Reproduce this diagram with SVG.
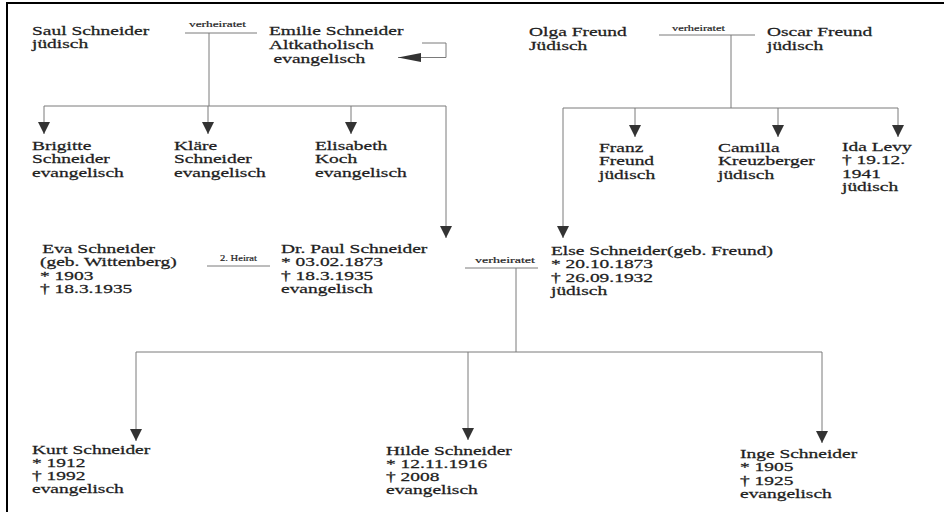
<svg xmlns="http://www.w3.org/2000/svg" width="944" height="512" viewBox="0 0 944 512">
<style>
.n text{font-family:"Liberation Serif","Times New Roman",serif;font-size:12.8px;fill:#1e1e1e;stroke:#1e1e1e;stroke-width:0.25}
.lbl{font-family:"Liberation Serif","Times New Roman",serif;font-size:9px;fill:#1e1e1e;stroke:#1e1e1e;stroke-width:0.2}
.c path{fill:none;stroke:#7a7a7a;stroke-width:1}
.border{fill:none;stroke:#000;stroke-width:2}
</style>
<defs>
<marker id="ah" markerUnits="userSpaceOnUse" markerWidth="12" markerHeight="12" refX="12" refY="6" orient="auto">
<path d="M0,0 L12,6 L0,12 z" fill="#333"/>
</marker>
<marker id="ahs" markerUnits="userSpaceOnUse" markerWidth="23" markerHeight="9" refX="23" refY="4.5" orient="auto">
<path d="M0,0 L23,4.5 L0,9 z" fill="#333"/>
</marker>
</defs>
<rect width="944" height="512" fill="#fff"/>
<path class="border" d="M7,512 V3 H944"/>

<g id="connectors" class="c">
<path d="M185,33 H257"/>
<path d="M209,33 V106"/>
<path d="M44,106 H446"/>
<path d="M44,106 V134" marker-end="url(#ah)"/>
<path d="M208,106 V134" marker-end="url(#ah)"/>
<path d="M351,106 V134" marker-end="url(#ah)"/>
<path d="M446,106 V238" marker-end="url(#ah)"/>
<path d="M422,43 H446 V57.5 H398" marker-end="url(#ahs)"/>
<path d="M659,35 H755"/>
<path d="M731,35 V108"/>
<path d="M563,108 H898"/>
<path d="M635,108 V137" marker-end="url(#ah)"/>
<path d="M778,108 V137" marker-end="url(#ah)"/>
<path d="M898,108 V137" marker-end="url(#ah)"/>
<path d="M563,108 V238" marker-end="url(#ah)"/>
<path d="M207,266 H270"/>
<path d="M465,268 H538"/>
<path d="M516,268 V352"/>
<path d="M136,352 H822"/>
<path d="M136,352 V441" marker-end="url(#ah)"/>
<path d="M468,352 V440" marker-end="url(#ah)"/>
<path d="M822,352 V443" marker-end="url(#ah)"/>
<g id="connector-labels">
<text class="lbl" x="189" y="27" textLength="57" lengthAdjust="spacingAndGlyphs">verheiratet</text>
<text class="lbl" x="672" y="31" textLength="53" lengthAdjust="spacingAndGlyphs">verheiratet</text>
<text class="lbl" x="220" y="261" textLength="37" lengthAdjust="spacingAndGlyphs">2. Heirat</text>
<text class="lbl" x="475" y="263" textLength="60" lengthAdjust="spacingAndGlyphs">verheiratet</text>
</g>
</g>

<g id="saul" class="n" transform="translate(32,35) scale(1.52,1)"><text><tspan x="0" y="0">Saul Schneider</tspan><tspan x="0" y="13">jüdisch</tspan></text></g>
<g id="emilie" class="n" transform="translate(269,35) scale(1.52,1)"><text><tspan x="0" y="0">Emilie Schneider</tspan><tspan x="0" y="14">Altkatholisch</tspan><tspan x="3" y="28">evangelisch</tspan></text></g>
<g id="olga" class="n" transform="translate(529,36) scale(1.52,1)"><text><tspan x="0" y="0">Olga Freund</tspan><tspan x="0" y="14">Jüdisch</tspan></text></g>
<g id="oscar" class="n" transform="translate(767,36) scale(1.52,1)"><text><tspan x="0" y="0">Oscar Freund</tspan><tspan x="0" y="14">jüdisch</tspan></text></g>

<g id="brigitte" class="n" transform="translate(32,150) scale(1.52,1)"><text><tspan x="0" y="0">Brigitte</tspan><tspan x="0" y="13.5">Schneider</tspan><tspan x="0" y="27">evangelisch</tspan></text></g>
<g id="klaere" class="n" transform="translate(174,150) scale(1.52,1)"><text><tspan x="0" y="0">Kläre</tspan><tspan x="0" y="13.5">Schneider</tspan><tspan x="0" y="27">evangelisch</tspan></text></g>
<g id="elisabeth" class="n" transform="translate(315,150) scale(1.52,1)"><text><tspan x="0" y="0">Elisabeth</tspan><tspan x="0" y="13.5">Koch</tspan><tspan x="0" y="27">evangelisch</tspan></text></g>

<g id="franz" class="n" transform="translate(599,152) scale(1.52,1)"><text><tspan x="0" y="0">Franz</tspan><tspan x="0" y="13.5">Freund</tspan><tspan x="0" y="27">jüdisch</tspan></text></g>
<g id="camilla" class="n" transform="translate(718,152) scale(1.52,1)"><text><tspan x="0" y="0">Camilla</tspan><tspan x="0" y="13.5">Kreuzberger</tspan><tspan x="0" y="27">jüdisch</tspan></text></g>
<g id="ida" class="n" transform="translate(842,151) scale(1.52,1)"><text><tspan x="0" y="0">Ida Levy</tspan><tspan x="0" y="13.5">† 19.12.</tspan><tspan x="0" y="27">1941</tspan><tspan x="0" y="40.5">jüdisch</tspan></text></g>

<g id="eva" class="n" transform="translate(40,253) scale(1.52,1)"><text><tspan x="1.5" y="0">Eva Schneider</tspan><tspan x="0" y="13.5">(geb. Wittenberg)</tspan><tspan x="0" y="27">* 1903</tspan><tspan x="0" y="40.5">† 18.3.1935</tspan></text></g>
<g id="paul" class="n" transform="translate(281,253) scale(1.52,1)"><text><tspan x="0" y="0">Dr. Paul Schneider</tspan><tspan x="0" y="13.5">* 03.02.1873</tspan><tspan x="0" y="27">† 18.3.1935</tspan><tspan x="0" y="40.5">evangelisch</tspan></text></g>
<g id="else" class="n" transform="translate(551,255) scale(1.52,1)"><text><tspan x="0" y="0">Else Schneider(geb. Freund)</tspan><tspan x="0" y="13.5">* 20.10.1873</tspan><tspan x="0" y="27">† 26.09.1932</tspan><tspan x="0" y="40.5">jüdisch</tspan></text></g>

<g id="kurt" class="n" transform="translate(32,454) scale(1.52,1)"><text><tspan x="0" y="0">Kurt Schneider</tspan><tspan x="0" y="13">* 1912</tspan><tspan x="0" y="26">† 1992</tspan><tspan x="0" y="39">evangelisch</tspan></text></g>
<g id="hilde" class="n" transform="translate(386,455) scale(1.52,1)"><text><tspan x="0" y="0">Hilde Schneider</tspan><tspan x="0" y="13">* 12.11.1916</tspan><tspan x="0" y="26">† 2008</tspan><tspan x="0" y="39">evangelisch</tspan></text></g>
<g id="inge" class="n" transform="translate(740,458) scale(1.52,1)"><text><tspan x="0" y="0">Inge Schneider</tspan><tspan x="0" y="13.5">* 1905</tspan><tspan x="0" y="27">† 1925</tspan><tspan x="0" y="40">evangelisch</tspan></text></g>
</svg>
